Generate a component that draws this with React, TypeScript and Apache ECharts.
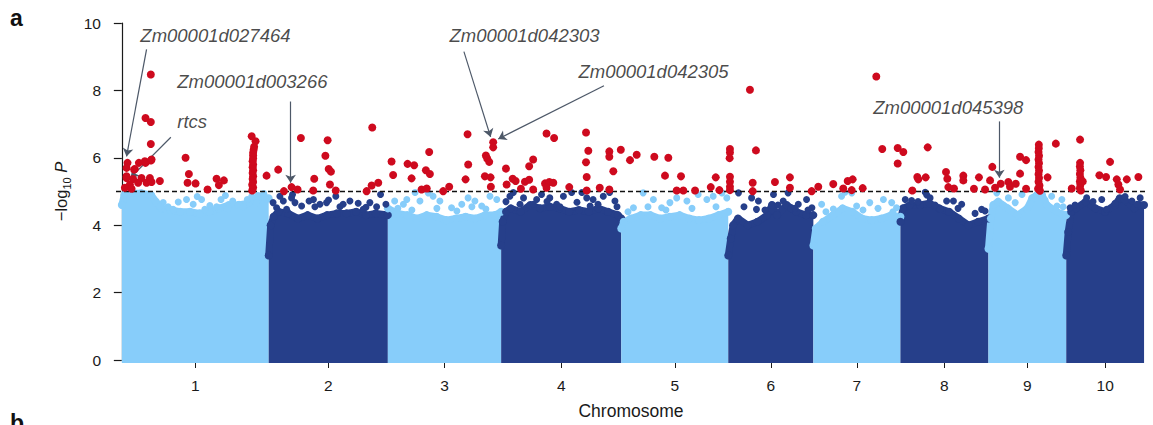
import React, { useEffect, useRef } from 'react';
import * as echarts from 'echarts';

// ---------- data ----------
const chromosomes = ['1', '2', '3', '4', '5', '6', '7', '8', '9', '10'];
const chromosomeLengthsMb = [302, 245, 233, 247, 220, 175, 179, 181, 160, 160];
const yTicks = [0, 2, 4, 6, 8, 10];
const thresholdLog10P = 5;

// upper edge of the dense SNP cloud, [position within chromosome (Mb), -log10 P]
const envelopeChr1 = [[0, 4.6], [5, 4.9], [20, 4.95], [40, 4.95], [60, 4.9], [70, 4.7], [80, 4.5], [100, 4.45], [120, 4.4], [140, 4.4], [160, 4.35], [180, 4.4], [200, 4.5], [220, 4.6], [240, 4.6], [260, 4.65], [280, 4.85], [302, 4.8]];
const envelopeChr2 = [[0, 3.1], [4, 4.0], [10, 4.25], [20, 4.4], [40, 4.35], [60, 4.2], [80, 4.3], [100, 4.2], [120, 4.3], [140, 4.35], [160, 4.35], [180, 4.4], [200, 4.3], [220, 4.35], [245, 4.3]];
const envelopeChr3 = [[0, 4.5], [20, 4.35], [40, 4.3], [60, 4.2], [80, 4.3], [100, 4.25], [120, 4.15], [140, 4.2], [160, 4.25], [180, 4.2], [200, 4.3], [220, 4.3], [233, 4.4]];
const envelopeChr4 = [[0, 3.4], [3, 4.1], [10, 4.4], [20, 4.5], [40, 4.4], [60, 4.6], [80, 4.5], [100, 4.55], [120, 4.5], [140, 4.4], [160, 4.45], [180, 4.4], [200, 4.5], [220, 4.4], [240, 4.3], [247, 4.2]];
const envelopeChr5 = [[0, 3.9], [5, 4.1], [20, 4.2], [40, 4.3], [60, 4.3], [80, 4.2], [100, 4.25], [120, 4.3], [140, 4.2], [160, 4.15], [180, 4.2], [200, 4.3], [220, 4.4]];
const envelopeChr6 = [[0, 3.1], [5, 3.6], [10, 4.0], [20, 4.2], [40, 4.0], [60, 4.1], [80, 4.3], [90, 4.6], [100, 4.3], [120, 4.6], [130, 4.5], [140, 4.4], [160, 4.3], [175, 4.3]];
const envelopeChr7 = [[0, 3.4], [5, 3.9], [20, 4.1], [40, 4.3], [60, 4.5], [80, 4.4], [100, 4.2], [120, 4.15], [140, 4.2], [160, 4.3], [179, 4.25]];
const envelopeChr8 = [[0, 4.1], [5, 4.5], [20, 4.6], [40, 4.6], [60, 4.65], [80, 4.5], [100, 4.4], [120, 4.2], [140, 4.0], [160, 4.1], [181, 4.2]];
const envelopeChr9 = [[0, 3.3], [5, 4.2], [10, 4.6], [20, 4.7], [40, 4.5], [60, 4.3], [80, 4.5], [90, 4.8], [100, 4.9], [110, 4.9], [120, 4.6], [140, 4.4], [160, 4.3]];
const envelopeChr10 = [[0, 3.1], [4, 3.8], [10, 4.4], [20, 4.5], [40, 4.7], [60, 4.5], [80, 4.4], [100, 4.6], [110, 4.8], [120, 4.75], [140, 4.5], [150, 4.6], [160, 4.6]];
const bodyEnvelopes = [envelopeChr1, envelopeChr2, envelopeChr3, envelopeChr4, envelopeChr5, envelopeChr6, envelopeChr7, envelopeChr8, envelopeChr9, envelopeChr10];

// sparse sub-threshold SNPs above the dense cloud: [chromosome, position (Mb), -log10 P]
const fringeSnps = [
  [1, 85, 4.67], [1, 95, 4.55], [1, 116, 4.69], [1, 133, 4.76], [1, 155, 4.85], [1, 164, 4.76], [1, 181, 4.58], [1, 204, 4.76], [1, 213, 4.88], [1, 228, 4.72], [1, 241, 4.62], [1, 258, 4.76], [1, 267, 4.85], [1, 280, 4.88], [1, 292, 4.94],
  [1, 78, 4.55], [1, 105.5, 4.47], [1, 146.7, 4.62], [1, 170.7, 4.47], [1, 194.8, 4.55], [1, 218.7, 4.49], [1, 249.5, 4.55], [1, 277, 4.67], [1, 297.6, 4.76],
  [2, 9, 4.67], [2, 23, 4.86], [2, 30, 4.72], [2, 47, 4.81], [2, 49, 4.91], [2, 54, 4.67], [2, 83, 4.72], [2, 92, 4.76], [2, 95, 4.55], [2, 119, 4.67], [2, 123, 4.75], [2, 138, 4.86], [2, 153, 4.62], [2, 184, 4.65], [2, 200, 4.53], [2, 208, 4.67], [2, 230, 4.91], [2, 241, 4.62],
  [2, 16.2, 4.52], [2, 36.8, 4.47], [2, 67.7, 4.57], [2, 105.3, 4.62], [2, 146.5, 4.55], [2, 167, 4.72], [2, 194.4, 4.47], [2, 221.9, 4.55],
  [3, 14, 4.72], [3, 32, 4.62], [3, 39, 4.76], [3, 56, 4.97], [3, 66, 4.72], [3, 83, 4.96], [3, 93, 4.86], [3, 107, 4.72], [3, 131, 4.52], [3, 152, 4.62], [3, 165, 4.81], [3, 179, 4.72], [3, 193, 4.57], [3, 210, 4.86], [3, 224, 4.76],
  [3, 20.6, 4.5], [3, 49.4, 4.45], [3, 100.8, 4.5], [3, 141.9, 4.42], [3, 172.8, 4.55], [3, 201.6, 4.48],
  [4, 18, 4.86], [4, 25, 4.97], [4, 46, 4.81], [4, 66, 4.62], [4, 73, 4.76], [4, 83, 4.91], [4, 100, 4.81], [4, 114, 4.62], [4, 128, 4.86], [4, 145, 4.97], [4, 166, 4.97], [4, 176, 4.81], [4, 183, 4.57], [4, 189, 4.76], [4, 210, 4.86], [4, 223, 4.97], [4, 234, 4.72],
  [4, 9.9, 4.7], [4, 38.7, 4.62], [4, 94.2, 4.7], [4, 121, 4.55], [4, 155.9, 4.68], [4, 199.1, 4.62], [4, 238.2, 4.55],
  [5, 25, 4.52], [5, 45, 4.96], [5, 66, 4.76], [5, 83, 4.52], [5, 100, 4.67], [5, 114, 4.81], [5, 135, 4.72], [5, 158, 4.91], [5, 176, 4.76], [5, 189, 4.86], [5, 207, 4.96], [5, 217, 4.81],
  [5, 13.8, 4.4], [5, 54.9, 4.55], [5, 91.9, 4.45], [5, 145.4, 4.5], [5, 194.8, 4.55],
  [6, 21, 4.96], [6, 48, 4.81], [6, 58, 4.47], [6, 62, 4.72], [6, 93, 4.91], [6, 113, 4.72], [6, 123, 4.96], [6, 144, 4.62], [6, 161, 4.76], [6, 172, 4.52],
  [6, 32.3, 4.55], [6, 75.5, 4.45], [6, 102.2, 4.6], [6, 137.2, 4.5], [6, 163.9, 4.45],
  [7, 17, 4.62], [7, 41, 4.48], [7, 58, 4.86], [7, 65, 4.98], [7, 79, 4.96], [7, 89, 4.57], [7, 116, 4.67], [7, 144, 4.76], [7, 161, 4.67], [7, 171, 4.52],
  [7, 25.9, 4.4], [7, 71.2, 4.35], [7, 102, 4.45], [7, 132.9, 4.5], [7, 163.7, 4.4],
  [8, 10, 4.76], [8, 23, 4.73], [8, 51, 4.98], [8, 54, 4.9], [8, 61, 4.81], [8, 82, 4.47], [8, 95, 4.72], [8, 109, 4.72], [8, 126, 4.62], [8, 167, 4.47], [8, 174, 4.42],
  [8, 36.2, 4.7], [8, 71.2, 4.6], [8, 118.5, 4.5], [8, 153.5, 4.35],
  [9, 17, 4.96], [9, 41, 4.81], [9, 55, 4.67], [9, 69, 4.91], [9, 79, 4.47], [9, 86, 4.62], [9, 130, 4.86], [9, 141, 4.57], [9, 151, 4.76],
  [9, 30, 4.6], [9, 95.9, 4.8], [9, 116.4, 4.75], [9, 153.5, 4.55],
  [10, 8, 4.52], [10, 42, 4.81], [10, 73, 4.76], [10, 83, 4.47], [10, 135, 4.72], [10, 152, 4.81],
  [10, 18.1, 4.6], [10, 55.1, 4.7], [10, 100.4, 4.65], [10, 120.9, 4.85], [10, 145.6, 4.62],
];

// significant SNPs: [chromosome, position (Mb), -log10 P]
const significantSnps = [
  [1, 59.6, 8.47], [1, 48.7, 7.18], [1, 59.6, 7.06], [1, 59.6, 6.41], [1, 11.7, 5.85], [1, 9.7, 5.7], [1, 35, 5.85], [1, 48.7, 5.85], [1, 59.6, 5.92], [1, 25.3, 5.65], [1, 9.7, 5.45], [1, 26.7, 5.67], [1, 47.3, 5.9], [1, 61.1, 5.95], [1, 9.7, 5.4], [1, 23.2, 5.37], [1, 40.5, 5.4], [1, 57.6, 5.4], [1, 16.5, 5.21], [1, 33.5, 5.26], [1, 50.8, 5.26], [1, 61.1, 5.28], [1, 6.2, 5.11], [1, 20, 5.08], [1, 78.2, 5.31], [1, 131, 6.0], [1, 137.8, 5.52], [1, 135.1, 5.26], [1, 151.6, 5.24], [1, 176.3, 5.06], [1, 194.8, 5.38], [1, 209.8, 5.33], [1, 199.5, 5.19],
  [1, 268, 5.03], [1, 270, 5.12], [1, 268, 5.2], [1, 270, 5.28], [1, 269, 5.37], [1, 270, 5.45], [1, 269, 5.55], [1, 270, 5.63], [1, 269, 5.72], [1, 270, 5.8], [1, 269, 5.9], [1, 270, 5.98], [1, 270, 6.07], [1, 270, 6.15], [1, 271, 6.24], [1, 272, 6.33], [1, 275, 6.49], [1, 267, 6.64], [1, 297.6, 5.47],
  [2, 19.5, 5.65], [2, 66.2, 6.59], [2, 31.3, 5.01], [2, 47, 5.13], [2, 59.4, 5.06], [2, 93.6, 5.38], [2, 91.5, 5.03], [2, 121.2, 6.52], [2, 116.6, 6.06], [2, 123.4, 5.67], [2, 128, 5.59], [2, 125.9, 5.21], [2, 137.9, 5.03], [2, 212.9, 6.9], [2, 201.3, 5.01], [2, 211.7, 5.18], [2, 225.3, 5.26],
  [3, 7.6, 5.89], [3, 10.9, 5.49], [3, 40.5, 5.82], [3, 54.1, 5.78], [3, 48.8, 5.39], [3, 78.2, 5.63], [3, 86.4, 5.52], [3, 85, 6.17], [3, 69.3, 5.06], [3, 80, 5.09], [3, 113.8, 5.01], [3, 126.1, 5.14], [3, 163.9, 6.7], [3, 216.6, 6.46], [3, 216.6, 6.31], [3, 201.6, 6.07], [3, 204.3, 5.98], [3, 208.4, 5.88], [3, 165.2, 5.8], [3, 159.8, 5.36], [3, 199.5, 5.45], [3, 211.2, 5.42], [3, 211.8, 5.14],
  [4, 9.9, 5.68], [4, 11.3, 5.21], [4, 23.7, 5.38], [4, 29.8, 5.31], [4, 40.7, 5.08], [4, 48.9, 5.29], [4, 57.6, 5.35], [4, 57.6, 5.75], [4, 65.8, 5.95], [4, 65.8, 5.06], [4, 93.3, 6.72], [4, 108.9, 6.59], [4, 90.2, 5.24], [4, 99, 5.28], [4, 107.2, 5.26], [4, 93.3, 5.11], [4, 140, 5.13], [4, 174.5, 6.75], [4, 179.2, 6.21], [4, 174.5, 5.87], [4, 175.9, 5.43], [4, 175.9, 5.03], [4, 202.7, 5.11], [4, 222.4, 6.19], [4, 222.4, 6.03], [4, 246, 6.24], [4, 230.6, 5.6], [4, 222.4, 5.06],
  [5, 17.9, 5.93], [5, 31.7, 6.09], [5, 67.9, 6.03], [5, 96.7, 6.0], [5, 89.9, 5.47], [5, 122.8, 5.45], [5, 114, 5.03], [5, 127.6, 5.03], [5, 151.7, 5.03], [5, 184, 5.13], [5, 194.3, 5.42], [5, 201.7, 5.04],
  [6, 3.5, 6.26], [6, 3.5, 6.16], [6, 2.8, 5.99], [6, 3.5, 5.44], [6, 3.5, 5.29], [6, 3.5, 5.14], [6, 3.5, 5.04], [6, 44.6, 8.02], [6, 56.9, 6.22], [6, 50.2, 5.26], [6, 50.2, 5.01], [6, 96, 5.28], [6, 126.8, 5.42], [6, 126.8, 5.11], [6, 171.5, 5.01],
  [7, 10.1, 5.14], [7, 40.9, 5.22], [7, 61.5, 5.09], [7, 70.6, 5.31], [7, 80.8, 5.36], [7, 78.8, 5.04], [7, 101.4, 5.1], [7, 129.4, 8.41], [7, 141.7, 6.26], [7, 173.4, 6.29], [7, 173.4, 5.83],
  [8, 6, 6.17], [8, 56.1, 6.31], [8, 34.8, 5.43], [8, 36.8, 5.36], [8, 52, 5.42], [8, 24.5, 5.03], [8, 93.8, 5.58], [8, 96.5, 5.38], [8, 98.5, 5.13], [8, 110.2, 5.09], [8, 129.4, 5.47], [8, 129.4, 5.33], [8, 161.5, 5.42], [8, 151.2, 5.08], [8, 174, 5.06],
  [9, 8, 5.73], [9, 3.3, 5.33], [9, 13.6, 5.11], [9, 25.3, 5.23], [9, 40.9, 5.28], [9, 44.4, 5.14], [9, 56.2, 5.23], [9, 65, 6.03], [9, 77.4, 5.93], [9, 65, 5.53], [9, 77.4, 5.08], [9, 121.6, 5.42], [9, 138.6, 6.42],
  [9, 103.6, 6.39], [9, 103.6, 6.28], [9, 103, 6.17], [9, 104, 6.06], [9, 103, 5.95], [9, 104, 5.84], [9, 103, 5.73], [9, 104, 5.62], [9, 103, 5.51], [9, 104, 5.4], [9, 103, 5.29], [9, 105, 5.18], [9, 102, 5.08], [9, 106, 5.02],
  [10, 11.3, 5.09], [10, 28.4, 6.54], [10, 28.4, 5.85], [10, 28, 5.74], [10, 29, 5.63], [10, 28, 5.52], [10, 29, 5.41], [10, 28, 5.3], [10, 29, 5.2], [10, 28, 5.1], [10, 30, 5.03], [10, 33.9, 5.3], [10, 68.1, 5.48], [10, 81.9, 5.43], [10, 90.1, 5.88], [10, 103.9, 5.36], [10, 107.2, 5.21], [10, 124.5, 5.36], [10, 148.3, 5.43], [10, 110.7, 5.06],
];

// gene call-outs: label anchor, arrow start and arrow tip in (genome Mb, -log10 P)
const annotations = [
  { gene: 'Zm00001d027464', textAt: [37, 9.62], from: [50.8, 9.22], to: [9.7, 6.04] },
  { gene: 'rtcs', textAt: [113, 7.07], from: [100.8, 6.61], to: [17.9, 5.41] },
  { gene: 'Zm00001d003266', textAt: [113, 8.25], from: [347, 7.67], to: [347, 5.26] },
  { gene: 'Zm00001d042303', textAt: [672.6, 9.63], from: [703.4, 9.15], to: [758.3, 6.62] },
  { gene: 'Zm00001d042305', textAt: [937.9, 8.57], from: [991.4, 8.14], to: [774, 6.56] },
  { gene: 'Zm00001d045398', textAt: [1544, 7.49], from: [1804.4, 7.08], to: [1804.4, 5.41] },
];

// ---------- styles ----------
const LIGHT = '#87CDFA';
const DARK = '#263F8A';
const RED = '#CE0A1E';
const FONT = "'Liberation Sans', Arial, Helvetica, sans-serif";
const INK = '#1a1a1a';

export default function App() {
  const ref = useRef<HTMLDivElement>(null);

  useEffect(() => {
    document.body.style.margin = '0';
    const chart = echarts.init(ref.current!, null, { renderer: 'svg' });

    const starts: number[] = [];
    let acc = 0;
    chromosomeLengthsMb.forEach((l) => { starts.push(acc); acc += l; });
    const mids = starts.map((s, i) => s + chromosomeLengthsMb[i] / 2);
    const colorOf = (i: number) => (i % 2 === 0 ? LIGHT : DARK);

    const series: any[] = [];
    bodyEnvelopes.forEach((env, i) => {
      series.push({
        type: 'line',
        name: 'chr' + chromosomes[i],
        data: env.map(([p, v]) => [starts[i] + p, v]),
        showSymbol: true,
        symbol: 'circle',
        symbolSize: 8,
        itemStyle: { color: colorOf(i), borderWidth: 0 },
        clip: false,
        silent: true,
        lineStyle: { color: colorOf(i), width: 7, cap: 'butt', join: 'round' },
        areaStyle: { color: colorOf(i), opacity: 1, origin: -0.09 },
        z: 2,
      });
    });
    chromosomes.forEach((c, i) => {
      series.push({
        type: 'scatter',
        name: 'fringe' + c,
        data: fringeSnps.filter((d) => d[0] === i + 1).map((d) => [starts[i] + d[1], d[2]]),
        symbolSize: 7,
        itemStyle: { color: colorOf(i), opacity: 1 },
        silent: true,
        z: 3,
      });
    });
    series.push({
      type: 'scatter',
      name: 'threshold',
      data: [],
      z: 4,
      markLine: {
        silent: true,
        symbol: ['none', 'none'],
        label: { show: false },
        lineStyle: { color: '#111', type: [5, 3], width: 1.3 },
        data: [{ yAxis: thresholdLog10P }],
      },
    });
    series.push({
      type: 'scatter',
      name: 'significant',
      data: significantSnps.map(([c, p, v]) => [starts[c - 1] + p, v]),
      symbolSize: 8,
      itemStyle: { color: RED, opacity: 1 },
      silent: true,
      z: 5,
    });
    series.push({
      type: 'scatter',
      name: 'annotations',
      data: annotations.map((a) => ({ name: a.gene, value: a.textAt })),
      symbol: 'circle',
      symbolSize: 1,
      itemStyle: { color: 'rgba(0,0,0,0)' },
      silent: true,
      z: 6,
      label: {
        show: true,
        position: 'right',
        distance: 0,
        formatter: '{b}',
        fontStyle: 'italic',
        fontSize: 18.5,
        fontFamily: FONT,
        color: INK,
        verticalAlign: 'middle',
      },
      markLine: {
        silent: true,
        symbol: ['none', 'arrow'],
        symbolSize: 8,
        label: { show: false },
        lineStyle: { color: '#4d5868', width: 1.2, type: 'solid' },
        data: annotations.map((a) => [{ coord: a.from }, { coord: a.to }]),
      },
    });

    chart.setOption({
      animation: false,
      backgroundColor: '#fff',
      grid: { left: 116, right: 7, top: 23, bottom: 64, containLabel: false },
      xAxis: {
        type: 'value',
        min: -12,
        max: 2106,
        offset: 4,
        axisLine: { show: false },
        splitLine: { show: false },
        axisTick: { show: true, length: 8, customValues: mids, lineStyle: { color: INK, width: 1 } },
        axisLabel: {
          show: true,
          customValues: mids,
          margin: 13,
          fontSize: 15.5,
          fontFamily: FONT,
          color: INK,
          formatter: (v: number) => {
            let best = 0;
            mids.forEach((m, i) => { if (Math.abs(m - v) < Math.abs(mids[best] - v)) best = i; });
            return chromosomes[best];
          },
        },
        name: 'Chromosome',
        nameLocation: 'middle',
        nameGap: 38,
        nameTextStyle: { fontSize: 17.5, fontFamily: FONT, color: INK },
      },
      yAxis: {
        type: 'value',
        min: yTicks[0],
        max: yTicks[yTicks.length - 1],
        interval: yTicks[1] - yTicks[0],
        axisLine: { show: true, lineStyle: { color: INK, width: 1.2 } },
        axisTick: { show: true, length: 8, lineStyle: { color: INK, width: 1.2 } },
        splitLine: { show: false },
        axisLabel: { margin: 15, fontSize: 15.5, fontFamily: FONT, color: INK },
        name: '{t|\u2212log}{s|10}{t| }{i|P}',
        nameLocation: 'middle',
        nameRotate: 90,
        nameGap: 39,
        nameTextStyle: {
          fontFamily: FONT,
          color: INK,
          rich: {
            t: { fontSize: 16.5, lineHeight: 24, fontFamily: FONT, color: INK },
            s: { fontSize: 11, lineHeight: 11, verticalAlign: 'bottom', fontFamily: FONT, color: INK },
            i: { fontSize: 16.5, lineHeight: 24, fontStyle: 'italic', fontFamily: FONT, color: INK },
          },
        },
      },
      graphic: [
        { type: 'text', left: 10, top: 6, style: { text: 'a', fontSize: 23, fontWeight: 'bold', fontFamily: FONT, fill: '#111' } },
        { type: 'text', left: 10, top: 411, style: { text: 'b', fontSize: 23, fontWeight: 'bold', fontFamily: FONT, fill: '#111' } },
      ],
      series,
    });

    return () => chart.dispose();
  }, []);

  return <div ref={ref} style={{ width: 1153, height: 425 }} />;
}
